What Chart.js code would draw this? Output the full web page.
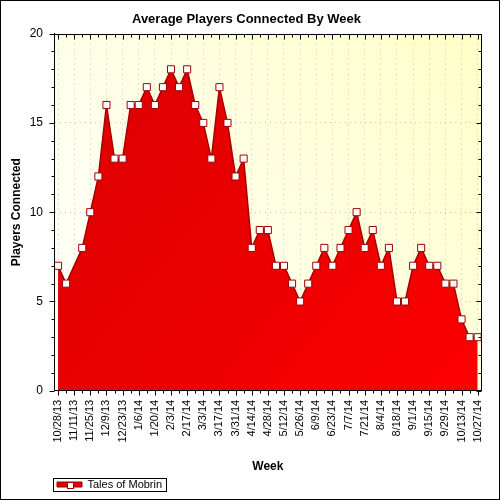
<!DOCTYPE html>
<html>
<head>
<meta charset="utf-8">
<title>Average Players Connected By Week</title>
<script src="https://cdn.jsdelivr.net/npm/chart.js@4.4.1/dist/chart.umd.min.js"></script>
<style>
  body { margin: 0; background: #fff; }
  canvas { display: block; }
</style>
</head>
<body>
<canvas id="playersChart" width="500" height="500"></canvas>
<script>
// weekly buckets, one label per week
var weeks = [
  '10/28/13', '11/4/13', '11/11/13', '11/18/13', '11/25/13', '12/2/13', '12/9/13', '12/16/13',
  '12/23/13', '12/30/13', '1/6/14', '1/13/14', '1/20/14', '1/27/14', '2/3/14', '2/10/14',
  '2/17/14', '2/24/14', '3/3/14', '3/10/14', '3/17/14', '3/24/14', '3/31/14', '4/7/14',
  '4/14/14', '4/21/14', '4/28/14', '5/5/14', '5/12/14', '5/19/14', '5/26/14', '6/2/14',
  '6/9/14', '6/16/14', '6/23/14', '6/30/14', '7/7/14', '7/14/14', '7/21/14', '7/28/14',
  '8/4/14', '8/11/14', '8/18/14', '8/25/14', '9/1/14', '9/8/14', '9/15/14', '9/22/14',
  '9/29/14', '10/6/14', '10/13/14', '10/20/14', '10/27/14'
];

// Tales of Mobrin, average players (null = no sample that week)
var players = [
  7, 6, null, 8, 10, 12, 16, 13, 13, 16,
  16, 17, 16, 17, 18, 17, 18, 16, 15, 13,
  17, 15, 12, 13, 8, 9, 9, 7, 7, 6,
  5, 6, 7, 8, 7, 8, 9, 10, 8, 9,
  7, 8, 5, 5, 7, 8, 7, 7, 6, 6,
  4, 3, 3
];

var yTicks = [0, 5, 10, 15, 20];

var FONT = 'Arial, "Liberation Sans", sans-serif';
var GRID = '#c4c4c4';
var NONE = 'rgba(0,0,0,0)';

var chartDecor = {
  id: 'chartDecor',
  beforeDraw: function (chart) {
    var ctx = chart.ctx, a = chart.chartArea;
    ctx.save();
    ctx.fillStyle = '#fff';
    ctx.fillRect(0, 0, chart.width, chart.height);
    var g = ctx.createLinearGradient(a.left, a.bottom, a.right, a.top);
    g.addColorStop(0, '#ffffff');
    g.addColorStop(1, '#ffffc8');
    ctx.fillStyle = g;
    ctx.fillRect(a.left, a.top, a.right - a.left, a.bottom - a.top);
    ctx.restore();
  },
  afterDraw: function (chart) {
    var ctx = chart.ctx, a = chart.chartArea;
    var xs = chart.scales.x, ys = chart.scales.y;
    var l = Math.round(a.left) + 0.5, r = Math.round(a.right) - 0.5;
    var t = Math.round(a.top) + 0.5, b = Math.round(a.bottom) - 0.5;
    ctx.save();
    ctx.strokeStyle = '#000';
    ctx.lineWidth = 1;
    // outer frame + plot frame
    ctx.strokeRect(0.5, 0.5, chart.width - 1, chart.height - 1);
    ctx.strokeRect(l, t, r - l, b - t);

    ctx.beginPath();
    weeks.forEach(function (w, i) {
      var px = Math.round(xs.getPixelForValue(i)) + 0.5;
      var len = i % 2 ? 3 : 5;
      ctx.moveTo(px, b); ctx.lineTo(px, b + len);
      ctx.moveTo(px, t); ctx.lineTo(px, t + len);
    });
    for (var v = 0; v <= 20; v++) {
      var py = Math.round(ys.getPixelForValue(v)) + 0.5;
      var len = v % 5 ? 3 : 5;
      ctx.moveTo(l, py); ctx.lineTo(l - len, py);
      ctx.moveTo(r, py); ctx.lineTo(r - len, py);
    }
    ctx.stroke();

    // legend frame and marker
    var hb = chart.legend.legendHitBoxes[0];
    if (hb) {
      ctx.strokeRect(Math.round(hb.left) - 3.5, Math.round(hb.top) - 0.5, Math.round(hb.width) + 8, Math.round(hb.height) + 2);
      var cx = Math.round(hb.left + 12.5), cy = Math.round(hb.top + hb.height / 2);
      ctx.fillStyle = '#fff';
      ctx.strokeStyle = '#a00000';
      ctx.fillRect(cx - 3, cy - 3, 7, 7);
      ctx.strokeRect(cx - 3 + 0.5, cy - 3 + 0.5, 6, 6);
    }
    ctx.restore();
  }
};

new Chart(document.getElementById('playersChart').getContext('2d'), {
  type: 'line',
  data: {
    labels: weeks,
    datasets: [{
      label: 'Tales of Mobrin',
      data: players,
      spanGaps: true,
      fill: 'origin',
      tension: 0,
      borderColor: '#a80000',
      borderWidth: 1.5,
      backgroundColor: function (context) {
        var a = context.chart.chartArea;
        if (!a) return '#e00000';
        var g = context.chart.ctx.createLinearGradient(a.left, a.top, a.right, a.bottom);
        g.addColorStop(0, '#da0000');
        g.addColorStop(1, '#fc0000');
        return g;
      },
      pointStyle: 'rect',
      pointRadius: 5,
      pointBorderWidth: 1,
      pointBackgroundColor: '#fff',
      pointBorderColor: '#a00000'
    }]
  },
  options: {
    responsive: false,
    animation: false,
    layout: { padding: { left: 7, right: 14, top: 4, bottom: 0 } },
    plugins: {
      title: {
        display: true,
        text: 'Average Players Connected By Week',
        color: '#000',
        font: { family: FONT, size: 13, weight: 'bold' },
        padding: { top: 8, bottom: 6 }
      },
      legend: {
        position: 'bottom',
        align: 'start',
        fullSize: false,
        labels: {
          color: '#000',
          font: { family: FONT, size: 11 },
          boxWidth: 25,
          boxHeight: 5,
          padding: 3,
          generateLabels: function (chart) {
            return [{
              text: chart.data.datasets[0].label,
              fillStyle: '#e00000',
              strokeStyle: '#a00000',
              lineWidth: 1,
              datasetIndex: 0
            }];
          }
        }
      },
      tooltip: { enabled: false }
    },
    scales: {
      x: {
        type: 'category',
        offset: true,
        border: { display: true, color: '#000', dash: [1, 4] },
        grid: {
          drawTicks: false,
          color: function (c) { return c.index % 2 === 0 ? GRID : NONE; }
        },
        ticks: {
          autoSkip: false,
          minRotation: 90,
          maxRotation: 90,
          padding: 9,
          color: '#000',
          font: { family: FONT, size: 11 },
          callback: function (value, index) { return index % 2 === 0 ? weeks[index] : ''; }
        },
        title: {
          display: true,
          text: 'Week',
          color: '#000',
          font: { family: FONT, size: 12, weight: 'bold' },
          padding: { top: 8, bottom: 2 }
        }
      },
      y: {
        min: 0,
        max: 20,
        afterFit: function (scale) { scale.width = 47; },
        border: { display: true, color: '#000', dash: [1, 4] },
        grid: {
          drawTicks: false,
          color: function (c) {
            var v = c.tick.value;
            return v % 5 === 0 && v > 0 && v < 20 ? GRID : NONE;
          }
        },
        ticks: {
          stepSize: 1,
          padding: 11,
          color: '#000',
          font: { family: FONT, size: 12 },
          callback: function (value) { return yTicks.indexOf(value) >= 0 ? value : ''; }
        },
        title: {
          display: true,
          text: 'Players Connected',
          color: '#000',
          font: { family: FONT, size: 12, weight: 'bold' },
          padding: { top: 2, bottom: 4 }
        }
      }
    }
  },
  plugins: [chartDecor]
});
</script>
</body>
</html>
